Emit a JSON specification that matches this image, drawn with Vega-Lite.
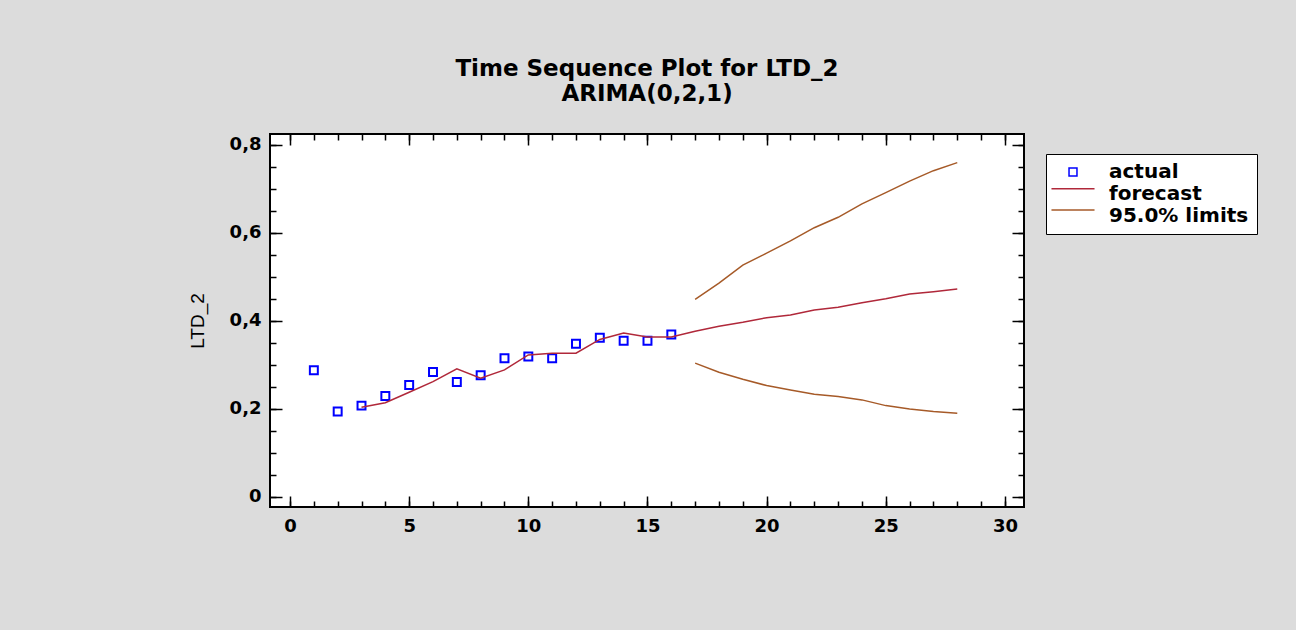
{
  "$schema": "https://vega.github.io/schema/vega-lite/v6.json",
  "width": 754,
  "height": 373,
  "autosize": {"type": "none"},
  "padding": {"left": 270, "top": 134, "right": 272, "bottom": 123},
  "background": "#dcdcdc",
  "config": {
    "view": {"stroke": "#000000", "strokeWidth": 2, "fill": "#ffffff"},
    "font": "DejaVu Sans",
    "axis": {"domain": false, "grid": false, "tickColor": "#000000", "tickWidth": 1.5, "labelFont": "DejaVu Sans", "labelFontWeight": "bold", "labelFontSize": 18, "labelColor": "#000000"}
  },
  "title": {
    "text": ["Time Sequence Plot for LTD_2", "ARIMA(0,2,1)"],
    "font": "DejaVu Sans",
    "fontSize": 23,
    "fontWeight": "bold",
    "color": "#000000",
    "lineHeight": 25,
    "anchor": "middle",
    "offset": 27
  },
  "data": {
    "values": [
      {"t": 1, "v": 0.288, "series": "actual", "part": "actual"},
      {"t": 2, "v": 0.194, "series": "actual", "part": "actual"},
      {"t": 3, "v": 0.2075, "series": "actual", "part": "actual"},
      {"t": 4, "v": 0.2295, "series": "actual", "part": "actual"},
      {"t": 5, "v": 0.2545, "series": "actual", "part": "actual"},
      {"t": 6, "v": 0.284, "series": "actual", "part": "actual"},
      {"t": 7, "v": 0.261, "series": "actual", "part": "actual"},
      {"t": 8, "v": 0.2765, "series": "actual", "part": "actual"},
      {"t": 9, "v": 0.315, "series": "actual", "part": "actual"},
      {"t": 10, "v": 0.319, "series": "actual", "part": "actual"},
      {"t": 11, "v": 0.315, "series": "actual", "part": "actual"},
      {"t": 12, "v": 0.348, "series": "actual", "part": "actual"},
      {"t": 13, "v": 0.362, "series": "actual", "part": "actual"},
      {"t": 14, "v": 0.355, "series": "actual", "part": "actual"},
      {"t": 15, "v": 0.355, "series": "actual", "part": "actual"},
      {"t": 16, "v": 0.369, "series": "actual", "part": "actual"},
      {"t": 3, "v": 0.204, "series": "forecast", "part": "forecast"},
      {"t": 4, "v": 0.214, "series": "forecast", "part": "forecast"},
      {"t": 5, "v": 0.238, "series": "forecast", "part": "forecast"},
      {"t": 6, "v": 0.262, "series": "forecast", "part": "forecast"},
      {"t": 7, "v": 0.291, "series": "forecast", "part": "forecast"},
      {"t": 8, "v": 0.27, "series": "forecast", "part": "forecast"},
      {"t": 9, "v": 0.2886, "series": "forecast", "part": "forecast"},
      {"t": 10, "v": 0.3227, "series": "forecast", "part": "forecast"},
      {"t": 11, "v": 0.3265, "series": "forecast", "part": "forecast"},
      {"t": 12, "v": 0.3265, "series": "forecast", "part": "forecast"},
      {"t": 13, "v": 0.358, "series": "forecast", "part": "forecast"},
      {"t": 14, "v": 0.3727, "series": "forecast", "part": "forecast"},
      {"t": 15, "v": 0.3636, "series": "forecast", "part": "forecast"},
      {"t": 16, "v": 0.3636, "series": "forecast", "part": "forecast"},
      {"t": 17, "v": 0.3766, "series": "forecast", "part": "forecast"},
      {"t": 18, "v": 0.388, "series": "forecast", "part": "forecast"},
      {"t": 19, "v": 0.397, "series": "forecast", "part": "forecast"},
      {"t": 20, "v": 0.4075, "series": "forecast", "part": "forecast"},
      {"t": 21, "v": 0.4136, "series": "forecast", "part": "forecast"},
      {"t": 22, "v": 0.425, "series": "forecast", "part": "forecast"},
      {"t": 23, "v": 0.431, "series": "forecast", "part": "forecast"},
      {"t": 24, "v": 0.4416, "series": "forecast", "part": "forecast"},
      {"t": 25, "v": 0.4507, "series": "forecast", "part": "forecast"},
      {"t": 26, "v": 0.4614, "series": "forecast", "part": "forecast"},
      {"t": 27, "v": 0.4666, "series": "forecast", "part": "forecast"},
      {"t": 28, "v": 0.4727, "series": "forecast", "part": "forecast"},
      {"t": 17, "v": 0.449, "series": "95.0% limits", "part": "upper"},
      {"t": 18, "v": 0.486, "series": "95.0% limits", "part": "upper"},
      {"t": 19, "v": 0.527, "series": "95.0% limits", "part": "upper"},
      {"t": 20, "v": 0.554, "series": "95.0% limits", "part": "upper"},
      {"t": 21, "v": 0.582, "series": "95.0% limits", "part": "upper"},
      {"t": 22, "v": 0.612, "series": "95.0% limits", "part": "upper"},
      {"t": 23, "v": 0.6356, "series": "95.0% limits", "part": "upper"},
      {"t": 24, "v": 0.666, "series": "95.0% limits", "part": "upper"},
      {"t": 25, "v": 0.6916, "series": "95.0% limits", "part": "upper"},
      {"t": 26, "v": 0.718, "series": "95.0% limits", "part": "upper"},
      {"t": 27, "v": 0.7416, "series": "95.0% limits", "part": "upper"},
      {"t": 28, "v": 0.76, "series": "95.0% limits", "part": "upper"},
      {"t": 17, "v": 0.304, "series": "95.0% limits", "part": "lower"},
      {"t": 18, "v": 0.2834, "series": "95.0% limits", "part": "lower"},
      {"t": 19, "v": 0.2675, "series": "95.0% limits", "part": "lower"},
      {"t": 20, "v": 0.253, "series": "95.0% limits", "part": "lower"},
      {"t": 21, "v": 0.243, "series": "95.0% limits", "part": "lower"},
      {"t": 22, "v": 0.2334, "series": "95.0% limits", "part": "lower"},
      {"t": 23, "v": 0.228, "series": "95.0% limits", "part": "lower"},
      {"t": 24, "v": 0.2205, "series": "95.0% limits", "part": "lower"},
      {"t": 25, "v": 0.2075, "series": "95.0% limits", "part": "lower"},
      {"t": 26, "v": 0.2, "series": "95.0% limits", "part": "lower"},
      {"t": 27, "v": 0.194, "series": "95.0% limits", "part": "lower"},
      {"t": 28, "v": 0.19, "series": "95.0% limits", "part": "lower"}
    ]
  },
  "encoding": {
    "x": {"field": "t", "type": "quantitative", "scale": {"domain": [-0.84, 30.8], "nice": false, "zero": false}},
    "y": {"field": "v", "type": "quantitative", "scale": {"domain": [-0.023, 0.825], "nice": false, "zero": false}},
    "color": {
      "field": "series",
      "type": "nominal",
      "scale": {"domain": ["actual", "forecast", "95.0% limits"], "range": ["#0000ff", "#b0283a", "#a65a28"]},
      "legend": {
        "title": null,
        "orient": "none",
        "legendX": 776,
        "legendY": 20,
        "padding": 8,
        "fillColor": "#ffffff",
        "strokeColor": "#000000",
        "symbolSize": 225,
        "symbolStrokeWidth": 1.5,
        "symbolOpacity": 1,
        "symbolOffset": 9,
        "labelOffset": 26,
        "labelFont": "DejaVu Sans",
        "labelFontSize": 20,
        "labelFontWeight": "bold",
        "labelColor": "#000000",
        "labelBaseline": "middle",
        "rowPadding": 2
      }
    }
  },
  "layer": [
    {
      "transform": [{"filter": "datum.part == 'actual'"}],
      "mark": {"type": "point", "filled": false, "size": 225, "strokeWidth": 2, "opacity": 1},
      "encoding": {
        "shape": {
          "field": "series",
          "type": "nominal",
          "scale": {"domain": ["actual", "forecast", "95.0% limits"], "range": ["M-0.53,-0.53H0.53V0.53H-0.53Z", "M-2.87,-0.7H2.87", "M-2.87,-0.8H2.87"]},
          "legend": {"title": null}
        },
        "x": {"field": "t", "type": "quantitative", "axis": {"orient": "bottom", "title": null, "values": [0, 5, 10, 15, 20, 25, 30], "tickSize": -11, "labelPadding": 21, "labelFlush": false}},
        "y": {"field": "v", "type": "quantitative", "axis": {"orient": "left", "title": "LTD_2", "titleFont": "Liberation Sans", "titleFontSize": 19, "titleFontWeight": "normal", "titleColor": "#000000", "titlePadding": 22, "values": [0, 0.2, 0.4, 0.6, 0.8], "tickSize": -12, "labelPadding": 21, "labelExpr": "datum.value == 0 ? '0' : replace(format(datum.value, '.1f'), '.', ',')"}}
      }
    },
    {
      "transform": [{"filter": "datum.part == 'forecast'"}],
      "mark": {"type": "line", "strokeWidth": 1.5},
      "encoding": {
        "x": {"field": "t", "type": "quantitative", "axis": {"orient": "top", "title": null, "labels": false, "values": [0, 5, 10, 15, 20, 25, 30], "tickSize": -11}},
        "y": {"field": "v", "type": "quantitative", "axis": {"orient": "right", "title": null, "labels": false, "values": [0, 0.2, 0.4, 0.6, 0.8], "tickSize": -12}}
      }
    },
    {
      "transform": [{"filter": "datum.part == 'upper'"}],
      "mark": {"type": "line", "strokeWidth": 1.5},
      "encoding": {
        "x": {"field": "t", "type": "quantitative", "axis": {"orient": "bottom", "title": null, "labels": false, "values": [0,1,2,3,4,5,6,7,8,9,10,11,12,13,14,15,16,17,18,19,20,21,22,23,24,25,26,27,28,29,30], "tickSize": -6}},
        "y": {"field": "v", "type": "quantitative", "axis": {"orient": "left", "title": null, "labels": false, "values": [0,0.05,0.1,0.15,0.2,0.25,0.3,0.35,0.4,0.45,0.5,0.55,0.6,0.65,0.7,0.75,0.8], "tickSize": -6}}
      }
    },
    {
      "transform": [{"filter": "datum.part == 'lower'"}],
      "mark": {"type": "line", "strokeWidth": 1.5},
      "encoding": {
        "x": {"field": "t", "type": "quantitative", "axis": {"orient": "top", "title": null, "labels": false, "values": [0,1,2,3,4,5,6,7,8,9,10,11,12,13,14,15,16,17,18,19,20,21,22,23,24,25,26,27,28,29,30], "tickSize": -6}},
        "y": {"field": "v", "type": "quantitative", "axis": {"orient": "right", "title": null, "labels": false, "values": [0,0.05,0.1,0.15,0.2,0.25,0.3,0.35,0.4,0.45,0.5,0.55,0.6,0.65,0.7,0.75,0.8], "tickSize": -6}}
      }
    }
  ],
  "resolve": {"axis": {"x": "independent", "y": "independent"}}
}
